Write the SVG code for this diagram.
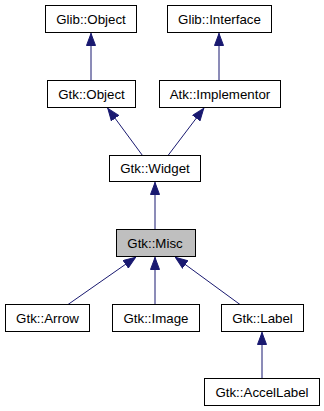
<svg xmlns="http://www.w3.org/2000/svg" width="324" height="411" viewBox="0 0 324 411">
  <style>
    .box { fill: #ffffff; stroke: #000000; stroke-width: 1; }
    .cur { fill: #bfbfbf; stroke: #000000; stroke-width: 1; }
    .lbl { font-family: "Liberation Sans", Arial, sans-serif; font-size: 13.3px; fill: #000000; text-anchor: middle; }
    .edge { stroke: #191970; stroke-width: 1; fill: none; }
    .head { fill: #191970; stroke: #191970; stroke-width: 1; }
  </style>
  <defs>
    <marker id="inherit" viewBox="0 0 13 10" refX="13" refY="5" markerWidth="13" markerHeight="10" markerUnits="userSpaceOnUse" orient="auto">
      <path class="head" d="M0.5,0.5 L12.5,5 L0.5,9.5 Z"/>
    </marker>
  </defs>

  <g id="edges">
    <line class="edge" x1="91" y1="80.5" x2="91" y2="33" marker-end="url(#inherit)"/>
    <line class="edge" x1="219" y1="80.5" x2="219" y2="33" marker-end="url(#inherit)"/>
    <line class="edge" x1="142.5" y1="155.5" x2="107.5" y2="108" marker-end="url(#inherit)"/>
    <line class="edge" x1="168" y1="155.5" x2="204" y2="108" marker-end="url(#inherit)"/>
    <line class="edge" x1="155" y1="229.5" x2="155" y2="182" marker-end="url(#inherit)"/>
    <line class="edge" x1="68" y1="304.5" x2="136" y2="257" marker-end="url(#inherit)"/>
    <line class="edge" x1="155" y1="304.5" x2="155" y2="257" marker-end="url(#inherit)"/>
    <line class="edge" x1="240" y1="304.5" x2="175" y2="257" marker-end="url(#inherit)"/>
    <line class="edge" x1="262" y1="378.5" x2="262" y2="332" marker-end="url(#inherit)"/>
  </g>

  <g id="glib_object">
    <rect class="box" x="45.5" y="5.5" width="91" height="27"/>
    <text class="lbl" x="91" y="23.5">Glib::Object</text>
  </g>
  <g id="glib_interface">
    <rect class="box" x="167.5" y="5.5" width="104" height="27"/>
    <text class="lbl" x="219.5" y="23.5">Glib::Interface</text>
  </g>
  <g id="gtk_object">
    <rect class="box" x="47.5" y="80.5" width="88" height="27"/>
    <text class="lbl" x="91.5" y="98.5">Gtk::Object</text>
  </g>
  <g id="atk_implementor">
    <rect class="box" x="159.5" y="80.5" width="121" height="27"/>
    <text class="lbl" x="220" y="98.5">Atk::Implementor</text>
  </g>
  <g id="gtk_widget">
    <rect class="box" x="109.5" y="155.5" width="91" height="26"/>
    <text class="lbl" x="155" y="173">Gtk::Widget</text>
  </g>
  <g id="gtk_misc">
    <rect class="cur" x="116.5" y="229.5" width="79" height="27"/>
    <text class="lbl" x="155" y="247.5">Gtk::Misc</text>
  </g>
  <g id="gtk_arrow">
    <rect class="box" x="5.5" y="304.5" width="84" height="27"/>
    <text class="lbl" x="47.5" y="322.5">Gtk::Arrow</text>
  </g>
  <g id="gtk_image">
    <rect class="box" x="112.5" y="304.5" width="87" height="27"/>
    <text class="lbl" x="156" y="322.5">Gtk::Image</text>
  </g>
  <g id="gtk_label">
    <rect class="box" x="221.5" y="304.5" width="82" height="27"/>
    <text class="lbl" x="262.5" y="322.5">Gtk::Label</text>
  </g>
  <g id="gtk_accellabel">
    <rect class="box" x="204.5" y="378.5" width="115" height="27"/>
    <text class="lbl" x="262" y="396.5">Gtk::AccelLabel</text>
  </g>
</svg>
